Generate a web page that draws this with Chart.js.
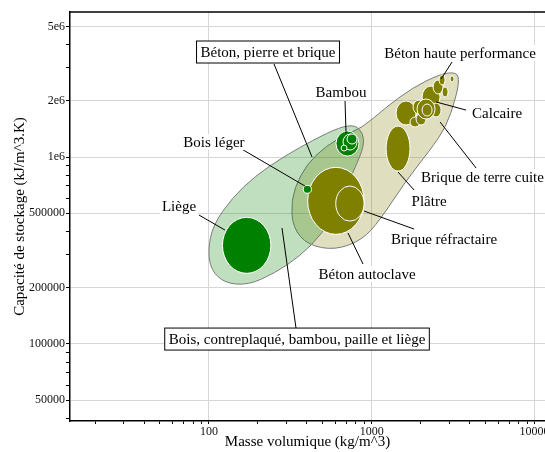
<!DOCTYPE html>
<html lang="fr">
  <head>
    <meta charset="UTF-8" />
    <title>Capacité de stockage / masse volumique</title>
    <style>
      * {
        margin: 0;
        padding: 0;
        box-sizing: border-box;
      }
      body {
        background: #fff;
      }
      .chartBox {
        width: 545px;
        height: 452px;
      }
    </style>
  </head>
  <body>
    <div class="chartBox">
      <canvas id="myChart" width="545" height="452"></canvas>
    </div>

    <script src="https://cdn.jsdelivr.net/npm/chart.js"></script>

    <script>
      // one ellipse per material: density range (kg/m^3) and storage capacity range (kJ/m^3.K)
      const materials = [
        "Liège", "Bambou", "Bambou lamellé", "Bambou massif", "Bambou léger",
        "Béton autoclave", "Brique réfractaire", "Bois léger", "Plâtre",
        "Brique de terre cuite", "Brique pleine", "Brique perforée", "Grès", "Pierre calcaire",
        "Granit", "Marbre", "Ardoise", "Calcaire", "Béton courant", "Béton armé",
        "Béton haute performance",
      ];
      const family = [
        "bois", "bois", "bois", "bois", "bois",
        "mineral", "mineral", "bois", "mineral",
        "mineral", "mineral", "mineral", "mineral", "mineral",
        "mineral", "mineral", "mineral", "mineral", "mineral", "mineral",
        "mineral",
      ];
      const rhoMin = [121, 603, 666, 705, 648, 404, 601, 380, 1225, 1410, 1719, 1872, 2038, 2382, 2705, 2593, 2315, 1794, 1898, 2038, 3029];
      const rhoMax = [240, 835, 812, 812, 705, 897, 897, 426, 1718, 1872, 1981, 2157, 2629, 2743, 2944, 2822, 2667, 2126, 2449, 2348, 3205];
      const capMin = [238600, 1012400, 1090000, 1174000, 1077000, 385800, 454000, 640000, 841000, 1484000, 1447600, 1484000, 1829000, 2174000, 2095000, 2428000, 1637000, 1699000, 1597000, 1657000, 2522000];
      const capMax = [475600, 1377000, 1327000, 1328000, 1159000, 880800, 700000, 705000, 1465000, 1995000, 1637300, 1720000, 2399000, 2583000, 2370000, 2747000, 1945000, 2019000, 2044000, 1921000, 2716000];

      // family envelopes
      const woodHullRho = [639, 789, 884, 897, 789, 621, 502, 363, 254, 174, 125, 103, 98.6, 106, 138.5, 192, 285, 436];
      const woodHullCap = [1447000, 1484000, 1344000, 1145000, 873000, 553600, 392000, 295300, 239400, 206500, 211700, 248500, 317900, 432700, 603400, 791000, 1000000, 1233000];
      const mineralHullRho = [2629, 3344, 3440, 3251, 2862, 2282, 1602, 1125, 872, 595, 406, 328, 319, 363, 448, 621, 872, 1207, 1769];
      const mineralHullCap = [2781000, 2850000, 2520000, 2019000, 1447000, 1090000, 734900, 460100, 359600, 317900, 338100, 416900, 588800, 801200, 1025000, 1264000, 1430000, 1829000, 2341000];

      // axis ticks
      const xTickValues = [100, 1000, 10000];
      const xTickText = ["100", "1000", "10000"];
      const xMinorTicks = [20, 30, 40, 50, 60, 70, 80, 90, 200, 300, 400, 500, 600, 700, 800, 900, 2000, 3000, 4000, 5000, 6000, 7000, 8000, 9000];
      const yTickValues = [50000, 100000, 200000, 500000, 1000000, 2000000, 5000000];
      const yTickText = ["50000", "100000", "200000", "500000", "1e6", "2e6", "5e6"];
      const yMinorTicks = [40000, 60000, 70000, 80000, 90000, 300000, 400000, 600000, 700000, 800000, 900000, 3000000, 4000000];

      // callouts: text anchor and leader line, in data units
      const callouts = [
        { text: "Béton, pierre et brique", at: [230.5, 3647000], from: [250.9, 3146000], to: [429.7, 1000000], box: true },
        { text: "Bambou", at: [647.5, 2228000], from: [685.4, 1994000], to: [695.1, 1344000] },
        { text: "Bois léger", at: [107.3, 1203000], from: [155, 1117000], to: [389, 699500] },
        { text: "Liège", at: [65.4, 546800], from: [86.8, 489400], to: [125.4, 406700] },
        { text: "Bois, contreplaqué, bambou, paille et liège", at: [347.5, 106200], from: [281, 416900], to: [342.5, 121600], box: true },
        { text: "Béton autoclave", at: [935.6, 236400], from: [715, 392000], to: [884, 267600] },
        { text: "Brique réfractaire", at: [2782, 364100], from: [897, 514000], to: [1820, 411800] },
        { text: "Plâtre", at: [2250, 581500], from: [1450, 831000], to: [1820, 666000] },
        { text: "Brique de terre cuite", at: [2009, 781600], from: [2629, 1539000], to: [4377, 873300], align: "left" },
        { text: "Calcaire", at: [5890, 1720000], from: [2485, 1970000], to: [3798, 1784000] },
        { text: "Béton haute performance", at: [3488, 3602000], from: [3115, 3225000], to: [2667, 2615000] },
      ];

      const fillColor = { bois: "#008000", mineral: "#808000" };
      const serif = "'Liberation Serif', 'Times New Roman', serif";

      const centers = (fam) =>
        materials
          .map((m, i) => ({ i, x: Math.sqrt(rhoMin[i] * rhoMax[i]), y: Math.sqrt(capMin[i] * capMax[i]) }))
          .filter((p) => family[p.i] === fam)
          .map((p) => ({ x: p.x, y: p.y }));

      function drawHull(ctx, xs, ys, rho, cap, fill) {
        const pts = rho.map((v, i) => [xs.getPixelForValue(v), ys.getPixelForValue(cap[i])]);
        const n = pts.length;
        const mid = (a, b) => [(a[0] + b[0]) / 2, (a[1] + b[1]) / 2];
        const start = mid(pts[n - 1], pts[0]);
        ctx.beginPath();
        ctx.moveTo(start[0], start[1]);
        for (let i = 0; i < n; i++) {
          const q = mid(pts[i], pts[(i + 1) % n]);
          ctx.quadraticCurveTo(pts[i][0], pts[i][1], q[0], q[1]);
        }
        ctx.closePath();
        ctx.fillStyle = fill;
        ctx.fill();
        ctx.strokeStyle = "#7a7a7a";
        ctx.lineWidth = 1;
        ctx.stroke();
      }

      const ashbyPlugin = {
        id: "ashby",
        beforeDatasetsDraw(chart) {
          const { ctx, scales } = chart;
          const xs = scales.x;
          const ys = scales.y;
          ctx.save();
          drawHull(ctx, xs, ys, mineralHullRho, mineralHullCap, "rgba(128, 128, 0, 0.25)");
          drawHull(ctx, xs, ys, woodHullRho, woodHullCap, "rgba(0, 128, 0, 0.25)");

          materials.forEach((m, i) => {
            const x0 = xs.getPixelForValue(rhoMin[i]);
            const x1 = xs.getPixelForValue(rhoMax[i]);
            const y0 = ys.getPixelForValue(capMin[i]);
            const y1 = ys.getPixelForValue(capMax[i]);
            ctx.beginPath();
            ctx.ellipse((x0 + x1) / 2, (y0 + y1) / 2, Math.abs(x1 - x0) / 2, Math.abs(y1 - y0) / 2, 0, 0, Math.PI * 2);
            ctx.fillStyle = fillColor[family[i]];
            ctx.fill();
            ctx.strokeStyle = "#ffffff";
            ctx.lineWidth = 1;
            ctx.stroke();
          });
          ctx.restore();
        },
        afterDraw(chart) {
          const { ctx, scales, chartArea } = chart;
          const xs = scales.x;
          const ys = scales.y;
          ctx.save();

          // frame top
          ctx.strokeStyle = "#000";
          ctx.lineWidth = 1.5;
          ctx.beginPath();
          ctx.moveTo(chartArea.left, chartArea.top);
          ctx.lineTo(chartArea.right, chartArea.top);
          ctx.stroke();

          // leader lines
          ctx.lineWidth = 1;
          callouts.forEach((c) => {
            ctx.beginPath();
            ctx.moveTo(xs.getPixelForValue(c.from[0]), ys.getPixelForValue(c.from[1]));
            ctx.lineTo(xs.getPixelForValue(c.to[0]), ys.getPixelForValue(c.to[1]));
            ctx.stroke();
          });

          // texts
          ctx.font = "15px " + serif;
          ctx.textBaseline = "middle";
          callouts.forEach((c) => {
            const x = xs.getPixelForValue(c.at[0]);
            const y = ys.getPixelForValue(c.at[1]);
            const w = ctx.measureText(c.text).width;
            const left = c.align === "left" ? x : x - w / 2;
            if (c.box) {
              ctx.fillStyle = "#fff";
              ctx.fillRect(left - 4, y - 11, w + 8, 22);
              ctx.strokeStyle = "#000";
              ctx.strokeRect(left - 4, y - 11, w + 8, 22);
            } else {
              ctx.fillStyle = "#fff";
              ctx.fillRect(left - 2, y - 8, w + 4, 16);
            }
            ctx.fillStyle = "#000";
            ctx.textAlign = "left";
            ctx.fillText(c.text, left, y + 1);
          });
          ctx.restore();
        },
      };

      const majorColor = (values) => (c) =>
        c.tick && values.includes(c.tick.value) ? "#d6d6d6" : "rgba(0,0,0,0)";

      const config = {
        type: "scatter",
        data: {
          datasets: [
            { label: "Bois", data: centers("bois"), pointRadius: 0, backgroundColor: fillColor.bois },
            { label: "Béton, pierre et brique", data: centers("mineral"), pointRadius: 0, backgroundColor: fillColor.mineral },
          ],
        },
        options: {
          responsive: false,
          animation: false,
          layout: { padding: { top: 12, left: 0, right: 0, bottom: 0 } },
          plugins: {
            legend: { display: false },
            tooltip: { enabled: false },
          },
          scales: {
            x: {
              type: "logarithmic",
              min: 14,
              max: 11600,
              bounds: "data",
              afterBuildTicks: (scale) => {
                scale.ticks = xMinorTicks.concat(xTickValues).sort((a, b) => a - b).map((v) => ({ value: v }));
              },
              afterFit: (scale) => {
                scale.height = 31;
                scale.paddingLeft = 0;
                scale.paddingRight = 0;
              },
              ticks: {
                autoSkip: false,
                maxRotation: 0,
                padding: 1,
                color: "#111",
                font: { family: serif, size: 12 },
                callback: (value) => {
                  const i = xTickValues.indexOf(value);
                  return i >= 0 ? xTickText[i] : "";
                },
              },
              grid: {
                color: majorColor(xTickValues),
                tickColor: "#000",
                tickLength: 3,
              },
              border: { color: "#000", width: 1.5 },
              title: {
                display: true,
                text: "Masse volumique (kg/m^3)",
                color: "#000",
                font: { family: serif, size: 15 },
                padding: { top: 0, bottom: 1 },
              },
            },
            y: {
              type: "logarithmic",
              min: 38700,
              max: 5970000,
              bounds: "data",
              afterBuildTicks: (scale) => {
                scale.ticks = yMinorTicks.concat(yTickValues).sort((a, b) => a - b).map((v) => ({ value: v }));
              },
              afterFit: (scale) => {
                scale.width = 70;
                scale.paddingTop = 0;
                scale.paddingBottom = 0;
              },
              ticks: {
                autoSkip: false,
                padding: 1,
                color: "#111",
                font: { family: serif, size: 12 },
                callback: (value) => {
                  const i = yTickValues.indexOf(value);
                  return i >= 0 ? yTickText[i] : "";
                },
              },
              grid: {
                color: majorColor(yTickValues),
                tickColor: "#000",
                tickLength: 4,
              },
              border: { color: "#000", width: 1.5 },
              title: {
                display: true,
                text: "Capacité de stockage (kJ/m^3.K)",
                color: "#000",
                font: { family: serif, size: 15 },
                padding: { top: 11, bottom: 0 },
              },
            },
          },
        },
        plugins: [ashbyPlugin],
      };

      const myChart = new Chart(document.getElementById("myChart"), config);
    </script>
  </body>
</html>
